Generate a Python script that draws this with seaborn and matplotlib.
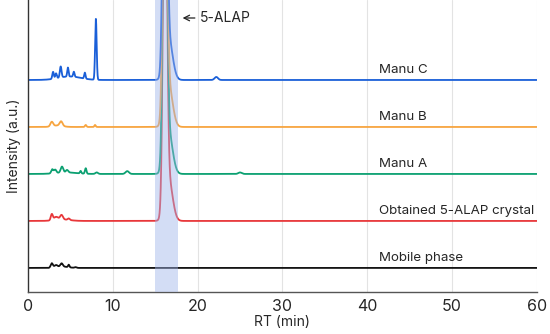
import numpy as np
import pandas as pd
import matplotlib.pyplot as plt
import seaborn as sns

# Peak tables: (retention time, height, width)
labels = ["Mobile phase", "Obtained 5-ALAP crystal", "Manu A", "Manu B", "Manu C"]
colors = ["#111111", "#e8373a", "#0ba071", "#f7a540", "#1a5fd8"]
offsets = [24, 71, 118, 165, 212]

peaks_mobile = [(2.8, 4.5, 0.13), (3.3, 2.5, 0.2), (3.95, 3.5, 0.15), (4.8, 2.5, 0.08),
                (4.2, 1.2, 0.6), (5.6, 0.7, 0.12)]
peaks_crystal = [(2.8, 6, 0.12), (3.3, 3, 0.25), (3.95, 4.5, 0.16), (4.8, 1.5, 0.12),
                 (4.0, 1.5, 0.9),
                 (16.15, 400, 0.22), (16.6, 40, 0.45)]
peaks_manu_a = [(2.85, 4, 0.12), (3.2, 3.5, 0.14), (4.0, 6, 0.15), (4.6, 2.5, 0.14), (6.2, 2.5, 0.08),
                (6.8, 5.5, 0.09), (4.5, 1.5, 1.2), (8.1, 1.5, 0.15), (11.7, 2.8, 0.2), (25.0, 1.5, 0.2),
                (16.15, 400, 0.22), (16.6, 40, 0.45)]
peaks_manu_b = [(2.8, 4.5, 0.16), (3.9, 4.5, 0.17), (3.5, 1.5, 0.6), (6.8, 2, 0.09), (7.9, 2, 0.08),
                (16.15, 400, 0.22), (16.6, 40, 0.45)]
peaks_manu_c = [(2.95, 7, 0.09), (3.3, 5, 0.09), (3.85, 11, 0.1), (4.7, 9, 0.08), (5.4, 5, 0.08),
                (6.7, 6, 0.08), (8.0, 61, 0.09), (4.9, 3.5, 1.3), (22.2, 3, 0.2),
                (16.15, 400, 0.22), (16.6, 40, 0.45)]
all_peaks = [peaks_mobile, peaks_crystal, peaks_manu_a, peaks_manu_b, peaks_manu_c]

rt = np.linspace(0, 60, 4001)
frames = []
for label, off, peaks in zip(labels, offsets, all_peaks):
    y = np.full_like(rt, off, dtype=float)
    for c, h, w in peaks:
        y += h * np.exp(-0.5 * ((rt - c) / w) ** 2)
    frames.append(pd.DataFrame({"RT": rt, "Intensity": y, "Sample": label}))
df = pd.concat(frames, ignore_index=True)

sns.set_style("white")
plt.rcParams['font.family'] = ['Inter', 'DejaVu Sans']

fig = plt.figure(figsize=(5.5, 3.34), dpi=100)
ax = fig.add_axes([0.051, 0.126, 0.925, 0.874])

for x in range(10, 61, 10):
    ax.axvline(x, color="#e3e3e3", lw=0.8, zorder=0)

sns.lineplot(data=df, x="RT", y="Intensity", hue="Sample", hue_order=labels,
             palette=colors, lw=1.3, legend=False, ax=ax)

ax.axvspan(15.0, 17.7, color="#9fb4ea", alpha=0.45, lw=0, zorder=5)

for label, off in zip(labels, offsets):
    ax.text(41.4, off + 4, label, fontsize=9.6, va="bottom", ha="left")

ax.annotate("", xy=(17.9, 274), xytext=(20.0, 274),
            arrowprops=dict(arrowstyle="->", color="#222222", lw=0.9))
ax.text(20.3, 274, "5-ALAP", fontsize=10, va="center", ha="left")

ax.set_xlim(0, 60)
ax.set_ylim(0, 292)
ax.set_xticks(range(0, 61, 10))
ax.set_yticks([])
ax.set_xlabel("RT (min)", fontsize=10, labelpad=1)
ax.set_ylabel("Intensity (a.u.)", fontsize=10, labelpad=5)
ax.tick_params(axis="x", labelsize=11.5, length=3, width=0.8, color="#555555", pad=2)

sns.despine(ax=ax, top=True, right=True)
ax.spines["left"].set_color("#333333")
ax.spines["left"].set_linewidth(1.0)
ax.spines["bottom"].set_color("#555555")
ax.spines["bottom"].set_linewidth(1.0)

fig.savefig("out.png", dpi=100)
